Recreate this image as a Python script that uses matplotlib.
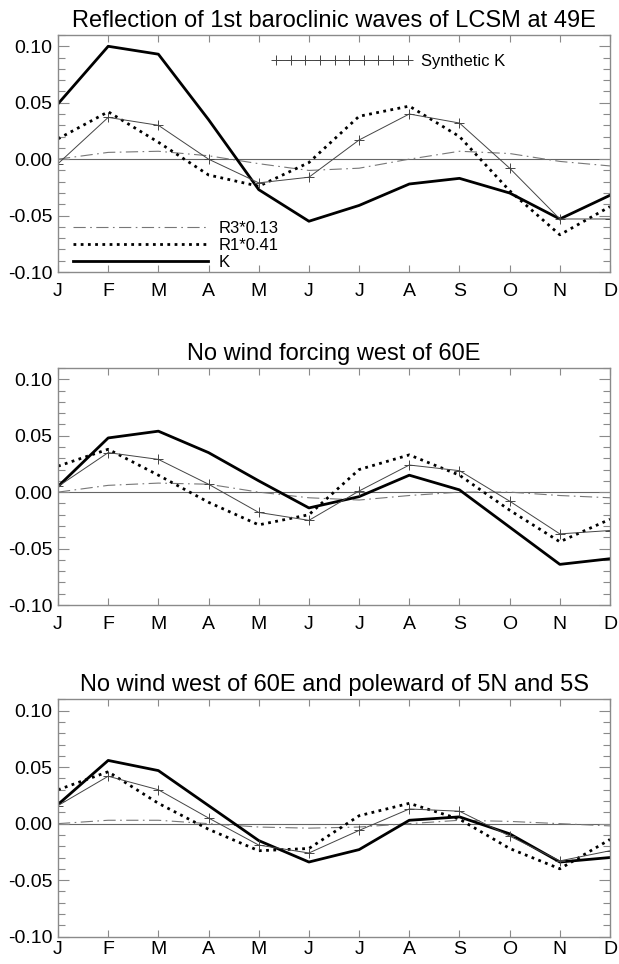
import numpy as np
import matplotlib
matplotlib.use('Agg')
import matplotlib.pyplot as plt
from matplotlib.ticker import MultipleLocator, FormatStrFormatter

plt.rcParams['font.family'] = ['Liberation Sans', 'DejaVu Sans']
plt.rcParams['axes.unicode_minus'] = False

months = ['J', 'F', 'M', 'A', 'M', 'J', 'J', 'A', 'S', 'O', 'N', 'D']

titles = ['Reflection of 1st baroclinic waves of LCSM at 49E',
          'No wind forcing west of 60E',
          'No wind west of 60E and poleward of 5N and 5S']

# K (model reflection)
k_vals = [
    [0.049, 0.100, 0.093, 0.035, -0.027, -0.055, -0.041, -0.022, -0.017, -0.030, -0.053, -0.032],
    [0.005, 0.048, 0.054, 0.035, 0.010, -0.014, -0.004, 0.015, 0.002, -0.031, -0.064, -0.059],
    [0.017, 0.056, 0.047, 0.016, -0.015, -0.034, -0.023, 0.003, 0.006, -0.009, -0.034, -0.030],
]

# synthetic K
synth_vals = [
    [-0.004, 0.037, 0.030, 0.000, -0.021, -0.016, 0.017, 0.040, 0.032, -0.008, -0.053, -0.053],
    [0.005, 0.035, 0.029, 0.007, -0.018, -0.025, 0.001, 0.024, 0.019, -0.008, -0.037, -0.034],
    [0.016, 0.042, 0.030, 0.005, -0.019, -0.026, -0.006, 0.013, 0.011, -0.011, -0.033, -0.024],
]

# R1*0.41
r1_vals = [
    [0.018, 0.042, 0.015, -0.014, -0.024, -0.003, 0.038, 0.047, 0.020, -0.028, -0.067, -0.042],
    [0.023, 0.038, 0.015, -0.009, -0.029, -0.020, 0.020, 0.033, 0.015, -0.016, -0.044, -0.024],
    [0.030, 0.046, 0.018, -0.005, -0.024, -0.022, 0.007, 0.018, 0.004, -0.022, -0.040, -0.014],
]

# R3*0.13
r3_vals = [
    [0.000, 0.006, 0.007, 0.003, -0.004, -0.010, -0.008, 0.000, 0.007, 0.005, -0.002, -0.006],
    [0.000, 0.006, 0.008, 0.007, 0.000, -0.005, -0.007, -0.003, 0.000, 0.000, -0.003, -0.005],
    [0.000, 0.003, 0.003, 0.000, -0.003, -0.004, -0.003, 0.000, 0.003, 0.002, 0.000, -0.002],
]

frame_col = '#8a8a8a'
x = np.arange(len(months))

fig = plt.figure(figsize=(6.19, 9.64), dpi=100)
bottoms = [0.7178, 0.3724, 0.0285]

for i in range(3):
    ax = fig.add_axes([0.0937, bottoms[i], 0.8918, 0.2459])
    ax.axhline(0, color='#666666', lw=0.8, zorder=1)

    l_r3, = ax.plot(x, r3_vals[i], color='#777777', lw=0.8,
                    linestyle=(0, (11, 4, 1.5, 4)), label='R3*0.13')
    l_r1, = ax.plot(x, r1_vals[i], color='black', lw=2.0,
                    linestyle=(0, (1, 1.6)), label='R1*0.41')
    l_k, = ax.plot(x, k_vals[i], color='black', lw=2.0, label='K')
    l_s, = ax.plot(x, synth_vals[i], color='#444444', lw=0.7, marker='+',
                   markersize=7, markeredgewidth=0.7, label='Synthetic K')

    ax.set_xlim(0, 11)
    ax.set_ylim(-0.10, 0.11)
    ax.set_xticks(x)
    ax.set_xticklabels(months)
    ax.yaxis.set_major_locator(MultipleLocator(0.05))
    ax.yaxis.set_minor_locator(MultipleLocator(0.01))
    ax.yaxis.set_major_formatter(FormatStrFormatter('%.2f'))
    ax.tick_params(axis='both', which='both', direction='in', top=True, right=True,
                   color=frame_col, labelsize=14)
    ax.tick_params(axis='y', which='major', length=8, width=0.8, pad=4)
    ax.tick_params(axis='y', which='minor', length=5, width=0.8)
    # last panel: labels sit tight against the page bottom
    ax.tick_params(axis='x', which='major', length=5, width=0.8, pad=8 if i < 2 else 3)
    for sp in ax.spines.values():
        sp.set_color(frame_col)
        sp.set_linewidth(1.0)
    ax.set_title(titles[i], fontsize=17, pad=6)

    if i == 0:
        leg1 = ax.legend(handles=[l_s], loc='center left', bbox_to_anchor=(0.386, 0.89),
                         frameon=False, fontsize=12, handlelength=8.5, handletextpad=0.5,
                         numpoints=10, borderpad=0, borderaxespad=0)
        ax.add_artist(leg1)
        ax.legend(handles=[l_r3, l_r1, l_k], loc='center left', bbox_to_anchor=(0.027, 0.114),
                  frameon=False, fontsize=12, handlelength=8.1, handletextpad=0.66,
                  labelspacing=0.12, borderpad=0, borderaxespad=0)

fig.savefig('out.png', dpi=100)
